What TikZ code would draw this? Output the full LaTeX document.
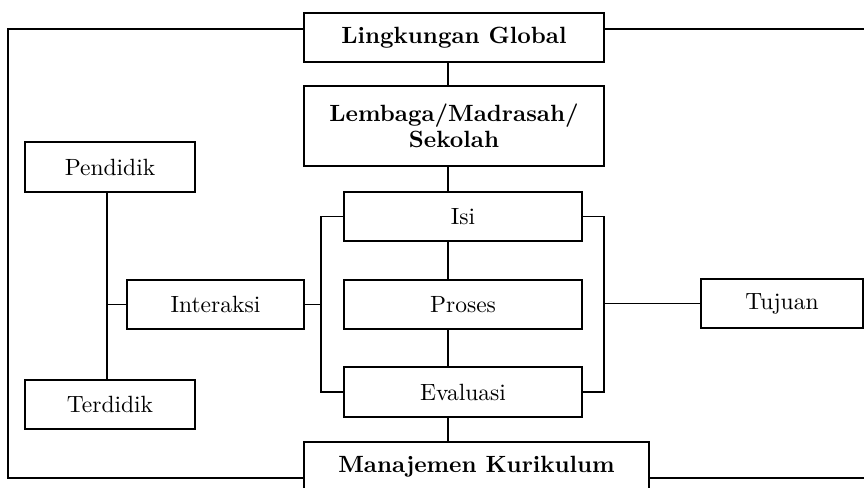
\documentclass[tikz,border=0pt]{standalone}
\usepackage{fontspec}
\setmainfont{lmroman10}[Extension=.otf, UprightFont=*-regular, BoldFont=*-bold, ItalicFont=*-italic]
\begin{document}
\begin{tikzpicture}[x=1pt,y=-1pt,
  box/.style={draw,line width=1.3pt,inner sep=0pt,align=center,font=\fontsize{23.5}{27}\selectfont},
  boldbox/.style={box,font=\fontsize{23.5}{26}\selectfont\bfseries},
  conn/.style={line width=1.3pt}]
\useasboundingbox (0,0) rectangle (864,487);
\clip (0,0) rectangle (864,487);
\node[boldbox,minimum width=300pt,minimum height=49pt] (lg) at (454,37.5) {Lingkungan Global};
\node[boldbox,minimum width=300pt,minimum height=80pt] (lm) at (454,126) {Lembaga/Madrasah/\\Sekolah};
\node[box,minimum width=170pt,minimum height=50pt] (pd) at (110,167) {Pendidik};
\node[box,minimum width=170pt,minimum height=49pt] (td) at (110,404.5) {Terdidik};
\node[box,minimum width=177pt,minimum height=49pt] (ia) at (215.5,304.5) {Interaksi};
\node[box,minimum width=238pt,minimum height=49pt] (isi) at (463,216.5) {Isi};
\node[box,minimum width=238pt,minimum height=49pt] (pr) at (463,304.5) {Proses};
\node[box,minimum width=238pt,minimum height=50pt] (ev) at (463,392) {Evaluasi};
\node[box,minimum width=162pt,minimum height=49pt] (tj) at (782,303.5) {Tujuan};
\node[boldbox,minimum width=345pt,minimum height=50pt] (mk) at (476.5,467) {Manajemen Kurikulum};
\coordinate (sp) at (448,0);
\coordinate (lp) at (107,0);
\coordinate (lb) at (321,0);
\coordinate (rb) at (604,0);
% spine
\draw[conn] (lg.south -| sp) -- (lm.north -| sp);
\draw[conn] (lm.south -| sp) -- (isi.north -| sp);
\draw[conn] (isi.south -| sp) -- (pr.north -| sp);
\draw[conn] (pr.south -| sp) -- (ev.north -| sp);
\draw[conn] (ev.south -| sp) -- (mk.north -| sp);
% left
\draw[conn] (pd.south -| lp) -- (td.north -| lp);
\draw[conn] (ia.west) -- (ia.west -| lp);
\draw[conn] (isi.west) -- (isi.west -| lb) -- (ev.west -| lb) -- (ev.west);
\draw[conn] (ia.east) -- (ia.east -| lb);
% right
\draw[conn] (isi.east) -- (isi.east -| rb) -- (ev.east -| rb) -- (ev.east);
\draw[conn] (tj.west -| rb) -- (tj.west);
% outer frame
\coordinate (fl) at (8,29);
\coordinate (fb) at (8,478);
\coordinate (fr) at (880,29);
\coordinate (frb) at (880,478);
\draw[conn] (lg.west |- fl) -- (fl) -- (fb) -- (mk.west |- fb);
\draw[conn] (lg.east |- fl) -- (fr);
\draw[conn] (mk.east |- frb) -- (frb);
\end{tikzpicture}
\end{document}
